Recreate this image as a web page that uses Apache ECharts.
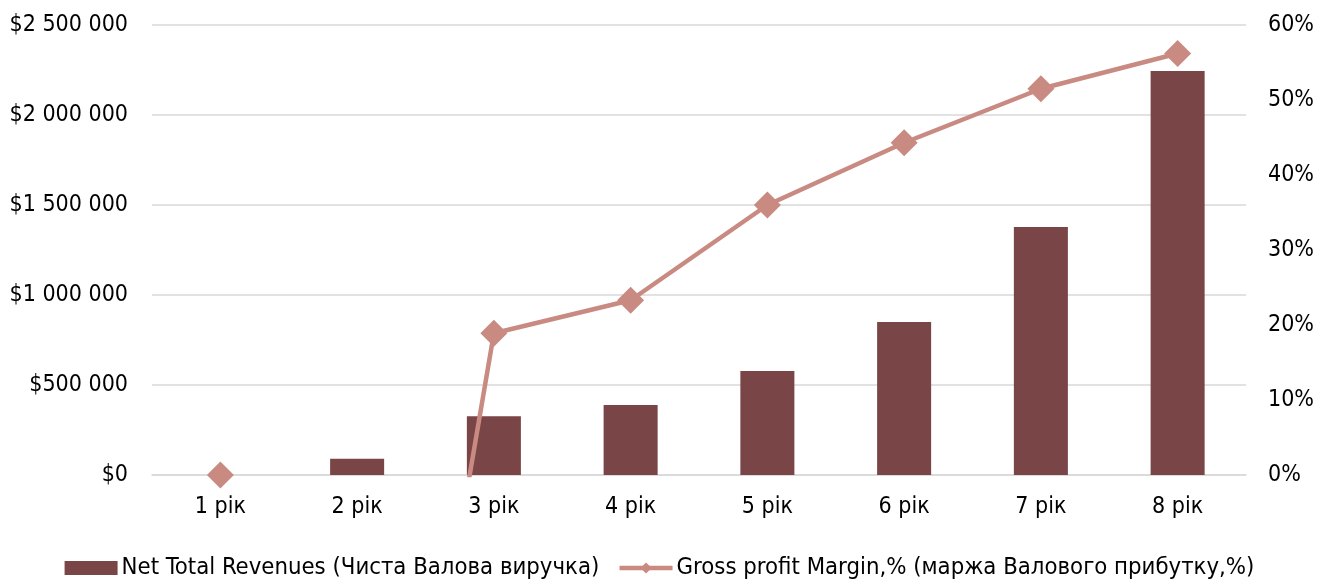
<!DOCTYPE html>
<html>
<head>
<meta charset="utf-8">
<script src="https://cdn.jsdelivr.net/npm/echarts@6/dist/echarts.min.js"></script>
<style>
  html, body { margin: 0; padding: 0; background: #fff; }
  #chart { width: 1319px; height: 579px; }
</style>
</head>
<body>
<div id="chart"></div>
<script>
// Year labels on the category axis
const years = ['1 рік', '2 рік', '3 рік', '4 рік', '5 рік', '6 рік', '7 рік', '8 рік'];

// Net total revenues, USD
const revenues = [0, 90000, 326000, 389000, 578000, 850000, 1378000, 2244000];

// Gross profit margin, share of revenue (year 2 is deeply negative)
const margins = [0, -0.88, 0.189, 0.233, 0.36, 0.443, 0.515, 0.562];

const revenueName = 'Net Total Revenues (Чиста Валова виручка)';
const marginName = 'Gross profit Margin,% (маржа Валового прибутку,%)';

const FONT = '"DejaVu Sans Condensed", "DejaVu Sans", sans-serif';
const TEXT = '#000000';
const GRID = '#d9d9d9';
const BAR = '#7a4547';
const LINE = '#c98a82';

function money(v) {
  const s = String(Math.round(v)).replace(/\B(?=(\d{3})+(?!\d))/g, ' ');
  return '$' + s;
}

const chart = echarts.init(document.getElementById('chart'), null, { renderer: 'canvas' });

chart.setOption({
  animation: false,
  textStyle: { fontFamily: FONT, color: TEXT },
  grid: { left: 152, right: 73, top: 25, bottom: 104, containLabel: false },
  legend: {
    top: 551,
    left: 'center',
    itemWidth: 53,
    itemHeight: 14,
    itemGap: 18,
    textStyle: { fontFamily: FONT, fontSize: 23.7, color: TEXT, padding: [0, 0, 0, -1] },
    data: [
      { name: revenueName, icon: 'rect' },
      { name: marginName, lineStyle: { width: 4.5, color: LINE } }
    ]
  },
  xAxis: {
    type: 'category',
    data: years,
    axisLine: { show: true, lineStyle: { color: GRID, width: 1.5 } },
    axisTick: { show: false },
    axisLabel: { fontFamily: FONT, fontSize: 23, color: TEXT, margin: 21 }
  },
  yAxis: [
    {
      type: 'value',
      min: 0,
      max: 2500000,
      interval: 500000,
      axisLine: { show: false },
      axisTick: { show: false },
      splitLine: { lineStyle: { color: GRID, width: 1.5 } },
      axisLabel: { fontFamily: FONT, fontSize: 23, color: TEXT, margin: 24, formatter: money }
    },
    {
      type: 'value',
      min: 0,
      max: 0.6,
      interval: 0.1,
      position: 'right',
      axisLine: { show: false },
      axisTick: { show: false },
      splitLine: { show: false },
      axisLabel: {
        fontFamily: FONT, fontSize: 23, color: TEXT, margin: 22,
        formatter: v => Math.round(v * 100) + '%'
      }
    }
  ],
  series: [
    {
      name: revenueName,
      type: 'bar',
      data: revenues,
      yAxisIndex: 0,
      barWidth: '39.5%',
      itemStyle: { color: BAR }
    },
    {
      name: marginName,
      type: 'line',
      data: margins,
      yAxisIndex: 1,
      clip: true,
      symbol: 'diamond',
      symbolSize: 27,
      lineStyle: { color: LINE, width: 4.5 },
      itemStyle: { color: LINE }
    }
  ]
});
</script>
</body>
</html>
